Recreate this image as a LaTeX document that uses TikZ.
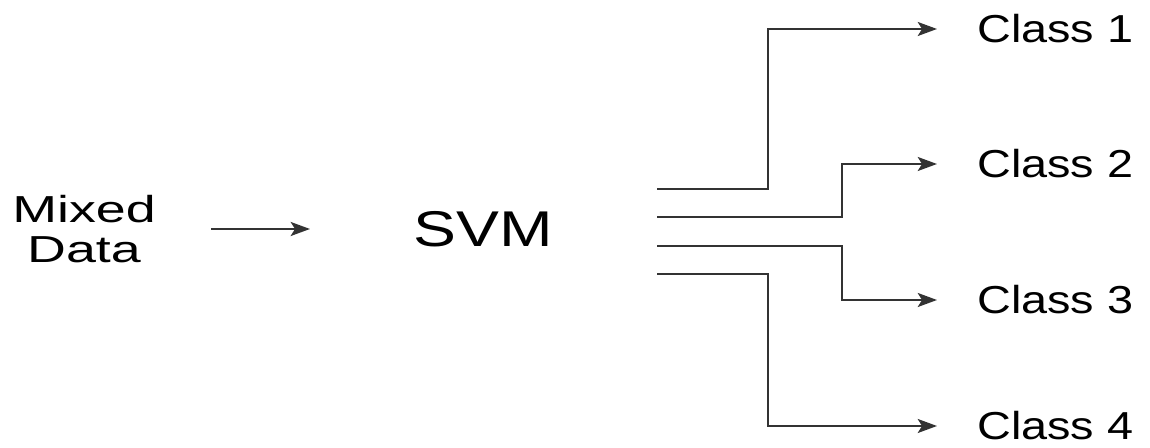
\documentclass[tikz,border=0pt]{standalone}
\usepackage{fontspec}
\usepackage{graphicx}
\setmainfont{Liberation Sans}
\usetikzlibrary{arrows.meta, calc, positioning}
\definecolor{Line_Gray}{HTML}{333333}
\newcommand{\widetext}[2]{\scalebox{#1}[1]{#2}}

\begin{document}
\begin{tikzpicture}[x=0.02cm, y=-0.02cm,
    label_text/.style={inner sep=0pt, text=black},
    flow/.style={draw=Line_Gray, line width=1.1pt, -{Stealth[length=11pt, width=8pt, inset=2.5pt]}}]
    \useasboundingbox (0,0) rectangle (1150,448);
    \node[label_text, align=center, font=\fontsize{21.4}{22.8}\selectfont] (mixed) at (84,229)
        {\widetext{1.43}{Mixed}\\\widetext{1.43}{Data}};
    \node[label_text, anchor=base, font=\fontsize{28.6}{34}\selectfont] (svm) at (483,247) {\widetext{1.28}{SVM}};
    \foreach \i/\y in {1/29, 2/164, 3/300, 4/426}
        \node[label_text, anchor=west, font=\fontsize{22.2}{26}\selectfont] (c\i) at (977,\y) {\widetext{1.2}{Class \i}};
    % outputs of the classifier
    \coordinate (o1) at (657,189);
    \coordinate (o2) at (657,217);
    \coordinate (o3) at (657,246);
    \coordinate (o4) at (657,274);
    \coordinate (far) at (768,0);
    \coordinate (near) at (842,0);
    \draw[flow, shorten <=1.1cm, shorten >=2.06cm] (mixed.east) -- (mixed.east -| svm.west);
    \foreach \i/\col in {1/far, 2/near, 3/near, 4/far}
        \draw[flow, shorten >=0.8cm] (o\i) -- (o\i -| \col) |- (c\i.west);
\end{tikzpicture}
\end{document}
